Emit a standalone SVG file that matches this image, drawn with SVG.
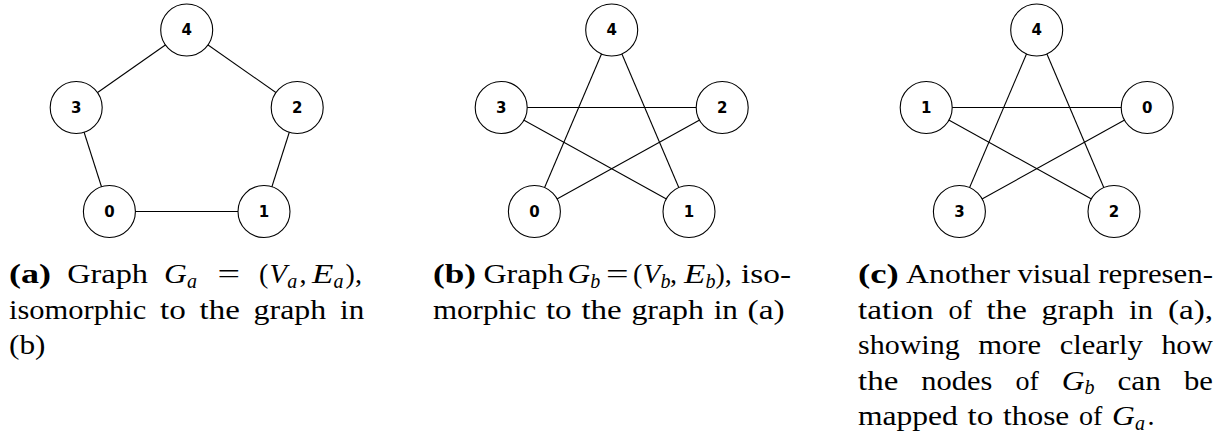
<svg xmlns="http://www.w3.org/2000/svg" width="1225" height="438" viewBox="0 0 1225 438">
<style>
.e{stroke:#000;stroke-width:1.1;fill:none}
.n circle{fill:#fff;stroke:#000;stroke-width:1.1}
.n text{font-family:"DejaVu Sans",sans-serif;font-weight:bold;font-size:15px;text-anchor:middle;fill:#000}
.c{font-family:"Liberation Serif",serif;font-size:28px;fill:#000}
.b{font-weight:bold}
.i{font-style:italic}
.s{font-style:italic;font-size:20px}
</style>
<rect width="1225" height="438" fill="#fff"/>
<g id="connectors">
<line class="e" x1="186.7" y1="30" x2="76.2" y2="107.5"/>
<line class="e" x1="186.7" y1="30" x2="297.2" y2="107.5"/>
<line class="e" x1="76.2" y1="107.5" x2="109.4" y2="211.5"/>
<line class="e" x1="297.2" y1="107.5" x2="264" y2="211.5"/>
<line class="e" x1="109.4" y1="211.5" x2="264" y2="211.5"/>
<line class="e" x1="611.7" y1="30" x2="534.4" y2="211.5"/>
<line class="e" x1="611.7" y1="30" x2="689" y2="211.5"/>
<line class="e" x1="501.2" y1="107.5" x2="722.2" y2="107.5"/>
<line class="e" x1="501.2" y1="107.5" x2="689" y2="211.5"/>
<line class="e" x1="722.2" y1="107.5" x2="534.4" y2="211.5"/>
<line class="e" x1="1036.7" y1="30" x2="959.4" y2="211.5"/>
<line class="e" x1="1036.7" y1="30" x2="1114" y2="211.5"/>
<line class="e" x1="926.2" y1="107.5" x2="1147.2" y2="107.5"/>
<line class="e" x1="926.2" y1="107.5" x2="1114" y2="211.5"/>
<line class="e" x1="1147.2" y1="107.5" x2="959.4" y2="211.5"/>
</g>
<g id="a4" class="n"><circle cx="186.7" cy="30" r="26"/><text x="186.7" y="35.3">4</text></g>
<g id="a3" class="n"><circle cx="76.2" cy="107.5" r="26"/><text x="76.2" y="112.8">3</text></g>
<g id="a2" class="n"><circle cx="297.2" cy="107.5" r="26"/><text x="297.2" y="112.8">2</text></g>
<g id="a0" class="n"><circle cx="109.4" cy="211.5" r="26"/><text x="109.4" y="216.8">0</text></g>
<g id="a1" class="n"><circle cx="264" cy="211.5" r="26"/><text x="264" y="216.8">1</text></g>
<g id="b4" class="n"><circle cx="611.7" cy="30" r="26"/><text x="611.7" y="35.3">4</text></g>
<g id="b3" class="n"><circle cx="501.2" cy="107.5" r="26"/><text x="501.2" y="112.8">3</text></g>
<g id="b2" class="n"><circle cx="722.2" cy="107.5" r="26"/><text x="722.2" y="112.8">2</text></g>
<g id="b0" class="n"><circle cx="534.4" cy="211.5" r="26"/><text x="534.4" y="216.8">0</text></g>
<g id="b1" class="n"><circle cx="689" cy="211.5" r="26"/><text x="689" y="216.8">1</text></g>
<g id="c4" class="n"><circle cx="1036.7" cy="30" r="26"/><text x="1036.7" y="35.3">4</text></g>
<g id="c1" class="n"><circle cx="926.2" cy="107.5" r="26"/><text x="926.2" y="112.8">1</text></g>
<g id="c0" class="n"><circle cx="1147.2" cy="107.5" r="26"/><text x="1147.2" y="112.8">0</text></g>
<g id="c3" class="n"><circle cx="959.4" cy="211.5" r="26"/><text x="959.4" y="216.8">3</text></g>
<g id="c2" class="n"><circle cx="1114" cy="211.5" r="26"/><text x="1114" y="216.8">2</text></g>
<g id="caption-a" class="c">
<text class="b" x="9" y="283.3" textLength="42" lengthAdjust="spacingAndGlyphs">(a)</text>
<text x="67.2" y="283.3" textLength="80.8" lengthAdjust="spacingAndGlyphs">Graph</text>
<text class="i" x="164.1" y="283.3" textLength="22.8" lengthAdjust="spacingAndGlyphs">G</text>
<text class="s" x="186.9" y="287.8">a</text>
<text x="217.5" y="283.3" textLength="22.6" lengthAdjust="spacingAndGlyphs">=</text>
<text x="259" y="283.3">(</text>
<text class="i" x="269.5" y="283.3" textLength="17.5" lengthAdjust="spacingAndGlyphs">V</text>
<text class="s" x="287.2" y="287.8">a</text>
<text x="299.4" y="283.3">,</text>
<text class="i" x="312" y="283.3" textLength="21.4" lengthAdjust="spacingAndGlyphs">E</text>
<text class="s" x="333.4" y="287.8">a</text>
<text x="345.6" y="283.3">),</text>
<text x="9" y="318.7" textLength="137.2" lengthAdjust="spacingAndGlyphs">isomorphic</text>
<text x="160" y="318.7" textLength="25.8" lengthAdjust="spacingAndGlyphs">to</text>
<text x="199.5" y="318.7" textLength="40.3" lengthAdjust="spacingAndGlyphs">the</text>
<text x="253.6" y="318.7" textLength="72.6" lengthAdjust="spacingAndGlyphs">graph</text>
<text x="340" y="318.7" textLength="24.2" lengthAdjust="spacingAndGlyphs">in</text>
<text x="9" y="354.1" textLength="36.5" lengthAdjust="spacingAndGlyphs">(b)</text>
</g>
<g id="caption-b" class="c">
<text class="b" x="433" y="283.3" textLength="43" lengthAdjust="spacingAndGlyphs">(b)</text>
<text x="483.5" y="283.3" textLength="80" lengthAdjust="spacingAndGlyphs">Graph</text>
<text class="i" x="567.5" y="283.3" textLength="22.8" lengthAdjust="spacingAndGlyphs">G</text>
<text class="s" x="590.3" y="287.8">b</text>
<text x="606" y="283.3" textLength="22.6" lengthAdjust="spacingAndGlyphs">=</text>
<text x="633" y="283.3">(</text>
<text class="i" x="643" y="283.3" textLength="17.5" lengthAdjust="spacingAndGlyphs">V</text>
<text class="s" x="660.5" y="287.8">b</text>
<text x="670" y="283.3">,</text>
<text class="i" x="684" y="283.3" textLength="21.4" lengthAdjust="spacingAndGlyphs">E</text>
<text class="s" x="705.4" y="287.8">b</text>
<text x="715.5" y="283.3">),</text>
<text x="741" y="283.3" textLength="50" lengthAdjust="spacingAndGlyphs">iso-</text>
<text x="433" y="318.7" textLength="103.2" lengthAdjust="spacingAndGlyphs">morphic</text>
<text x="545.9" y="318.7" textLength="25.8" lengthAdjust="spacingAndGlyphs">to</text>
<text x="581.4" y="318.7" textLength="40.3" lengthAdjust="spacingAndGlyphs">the</text>
<text x="631.4" y="318.7" textLength="72.6" lengthAdjust="spacingAndGlyphs">graph</text>
<text x="713.7" y="318.7" textLength="24.2" lengthAdjust="spacingAndGlyphs">in</text>
<text x="747.6" y="318.7" textLength="37.1" lengthAdjust="spacingAndGlyphs">(a)</text>
</g>
<g id="caption-c" class="c">
<text class="b" x="858" y="283.3" textLength="40.8" lengthAdjust="spacingAndGlyphs">(c)</text>
<text x="906.1" y="283.3" textLength="104" lengthAdjust="spacingAndGlyphs">Another</text>
<text x="1017.4" y="283.3" textLength="73.5" lengthAdjust="spacingAndGlyphs">visual</text>
<text x="1098.3" y="283.3" textLength="114.7" lengthAdjust="spacingAndGlyphs">represen-</text>
<text x="858" y="318.7" textLength="75.7" lengthAdjust="spacingAndGlyphs">tation</text>
<text x="948.4" y="318.7" textLength="23.4" lengthAdjust="spacingAndGlyphs">of</text>
<text x="986.5" y="318.7" textLength="40.3" lengthAdjust="spacingAndGlyphs">the</text>
<text x="1041.6" y="318.7" textLength="72.6" lengthAdjust="spacingAndGlyphs">graph</text>
<text x="1128.9" y="318.7" textLength="24.2" lengthAdjust="spacingAndGlyphs">in</text>
<text x="1167.9" y="318.7" textLength="45.1" lengthAdjust="spacingAndGlyphs">(a),</text>
<text x="858" y="354.1" textLength="101.7" lengthAdjust="spacingAndGlyphs">showing</text>
<text x="978.3" y="354.1" textLength="62.9" lengthAdjust="spacingAndGlyphs">more</text>
<text x="1059.7" y="354.1" textLength="83.1" lengthAdjust="spacingAndGlyphs">clearly</text>
<text x="1161.4" y="354.1" textLength="51.6" lengthAdjust="spacingAndGlyphs">how</text>
<text x="858" y="389.5" textLength="40.3" lengthAdjust="spacingAndGlyphs">the</text>
<text x="921.3" y="389.5" textLength="71" lengthAdjust="spacingAndGlyphs">nodes</text>
<text x="1015.4" y="389.5" textLength="23.4" lengthAdjust="spacingAndGlyphs">of</text>
<text class="i" x="1061.8" y="389.5" textLength="22.8" lengthAdjust="spacingAndGlyphs">G</text>
<text class="s" x="1084.6" y="394">b</text>
<text x="1117.4" y="389.5" textLength="43.5" lengthAdjust="spacingAndGlyphs">can</text>
<text x="1183.9" y="389.5" textLength="29" lengthAdjust="spacingAndGlyphs">be</text>
<text x="858" y="425" textLength="99.9" lengthAdjust="spacingAndGlyphs">mapped</text>
<text x="967.6" y="425" textLength="25.8" lengthAdjust="spacingAndGlyphs">to</text>
<text x="1003.1" y="425" textLength="66.2" lengthAdjust="spacingAndGlyphs">those</text>
<text x="1079" y="425" textLength="23.4" lengthAdjust="spacingAndGlyphs">of</text>
<text class="i" x="1112.1" y="425" textLength="22.8" lengthAdjust="spacingAndGlyphs">G</text>
<text class="s" x="1134.9" y="429.5">a</text>
<text x="1147.5" y="425">.</text>
</g>
</svg>
